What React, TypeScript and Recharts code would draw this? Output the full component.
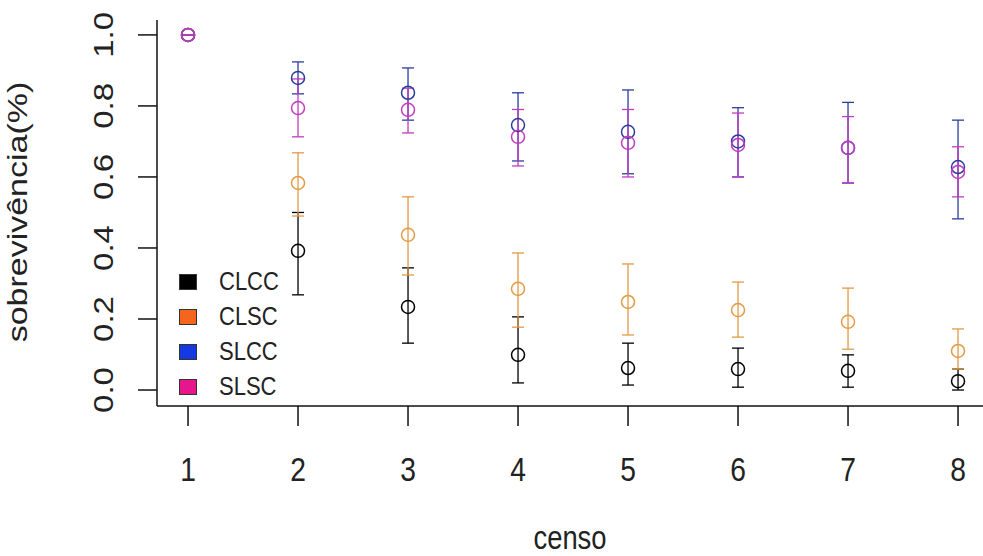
import { ScatterChart, Scatter, XAxis, YAxis, ErrorBar } from "recharts";

const W = 983;
const H = 556;
const FONT = "'Liberation Sans', Arial, Helvetica, sans-serif";

const censo = [1, 2, 3, 4, 5, 6, 7, 8];
const yTicks = [0, 0.2, 0.4, 0.6, 0.8, 1.0];
const seriesNames = ["CLCC", "CLSC", "SLCC", "SLSC"];
const legendColors = ["#000000", "#F5661C", "#1538E0", "#E8168C"];
const markColors = ["#000000", "#E39A45", "#2A3D9E", "#C23CC2"];

const clccMean = [1.0, 0.392, 0.234, 0.099, 0.062, 0.059, 0.054, 0.025];
const clccLow = [1.0, 0.268, 0.132, 0.02, 0.014, 0.008, 0.008, 0.0];
const clccHigh = [1.0, 0.5, 0.344, 0.206, 0.132, 0.118, 0.099, 0.059];

const clscMean = [1.0, 0.583, 0.437, 0.285, 0.248, 0.225, 0.192, 0.11];
const clscLow = [1.0, 0.49, 0.324, 0.177, 0.155, 0.149, 0.115, 0.059];
const clscHigh = [1.0, 0.668, 0.544, 0.386, 0.355, 0.304, 0.287, 0.172];

const slccMean = [1.0, 0.879, 0.837, 0.746, 0.727, 0.7, 0.682, 0.628];
const slccLow = [1.0, 0.834, 0.76, 0.645, 0.609, 0.6, 0.583, 0.482];
const slccHigh = [1.0, 0.924, 0.907, 0.837, 0.845, 0.795, 0.81, 0.76];

const slscMean = [1.0, 0.794, 0.789, 0.713, 0.696, 0.69, 0.682, 0.614];
const slscLow = [1.0, 0.713, 0.724, 0.631, 0.6, 0.6, 0.583, 0.544];
const slscHigh = [1.0, 0.876, 0.85, 0.79, 0.79, 0.78, 0.77, 0.685];

const means = [clccMean, clscMean, slccMean, slscMean];
const lows = [clccLow, clscLow, slccLow, slscLow];
const highs = [clccHigh, clscHigh, slccHigh, slscHigh];

function buildSeries(i: number) {
  return censo.map((c, k) => ({
    x: c,
    y: means[i][k],
    err: [means[i][k] - lows[i][k], highs[i][k] - means[i][k]],
  }));
}

const XTick = (props: any) => {
  const { x, y, payload } = props;
  return (
    <text
      transform={`translate(${x},${y + 53}) scale(0.83,1)`}
      textAnchor="middle"
      fontSize={34}
      fontFamily={FONT}
      fill="#222"
    >
      {payload.value}
    </text>
  );
};

const YTick = (props: any) => {
  const { y, payload } = props;
  return (
    <text
      transform={`translate(113,${y}) rotate(-90) scale(1,0.83)`}
      textAnchor="middle"
      fontSize={33}
      fontFamily={FONT}
      fill="#222"
    >
      {payload.value.toFixed(1)}
    </text>
  );
};

export default function App() {
  return (
    <div style={{ position: "absolute", left: 0, top: 0, width: W, height: H, background: "#fff" }}>
      <ScatterChart width={W} height={H} margin={{ top: 20, right: 0, bottom: 50, left: 0 }}>
        <XAxis
          type="number"
          dataKey="x"
          domain={[0.718, 8.227]}
          ticks={censo}
          allowDataOverflow
          height={100}
          tickSize={20}
          tick={<XTick />}
          axisLine={{ stroke: "#111", strokeWidth: 1.5 }}
          tickLine={{ stroke: "#111", strokeWidth: 1.5 }}
        />
        <YAxis
          type="number"
          dataKey="y"
          domain={[-0.045, 1.042]}
          ticks={yTicks}
          allowDataOverflow
          width={157}
          tickSize={19}
          tick={<YTick />}
          axisLine={{ stroke: "#111", strokeWidth: 1.5 }}
          tickLine={{ stroke: "#111", strokeWidth: 1.5 }}
        />
        {seriesNames.map((name, i) => (
          <Scatter
            key={name}
            name={name}
            data={buildSeries(i)}
            dataKey="y"
            isAnimationActive={false}
            shape={(p: any) => (
              <circle cx={p.cx} cy={p.cy} r={6.5} fill="none" stroke={markColors[i]} strokeWidth={1.5} />
            )}
          >
            <ErrorBar
              dataKey="err"
              direction="y"
              width={6}
              stroke={markColors[i]}
              strokeWidth={1.3}
              isAnimationActive={false}
            />
          </Scatter>
        ))}
      </ScatterChart>

      <svg
        width={W}
        height={H}
        style={{ position: "absolute", left: 0, top: 0, pointerEvents: "none" }}
      >
        <text
          transform="translate(570,549) scale(0.83,1)"
          textAnchor="middle"
          fontSize={33}
          fontFamily={FONT}
          fill="#222"
        >
          censo
        </text>
        <text
          transform="translate(27,212) rotate(-90) scale(1,0.8)"
          textAnchor="middle"
          fontSize={34}
          fontFamily={FONT}
          fill="#222"
        >
          sobrevivência(%)
        </text>
      </svg>

      <div style={{ position: "absolute", left: 179, top: 264, fontFamily: FONT, color: "#222" }}>
        {seriesNames.map((name, i) => (
          <div key={name} style={{ display: "flex", alignItems: "center", height: 35 }}>
            <span
              style={{
                display: "inline-block",
                width: 16,
                height: 14,
                background: legendColors[i],
                border: "1px solid #333",
              }}
            />
            <span
              style={{
                display: "inline-block",
                marginLeft: 22,
                fontSize: 25,
                lineHeight: "35px",
                transform: "scaleX(0.88)",
                transformOrigin: "left center",
              }}
            >
              {name}
            </span>
          </div>
        ))}
      </div>
    </div>
  );
}
